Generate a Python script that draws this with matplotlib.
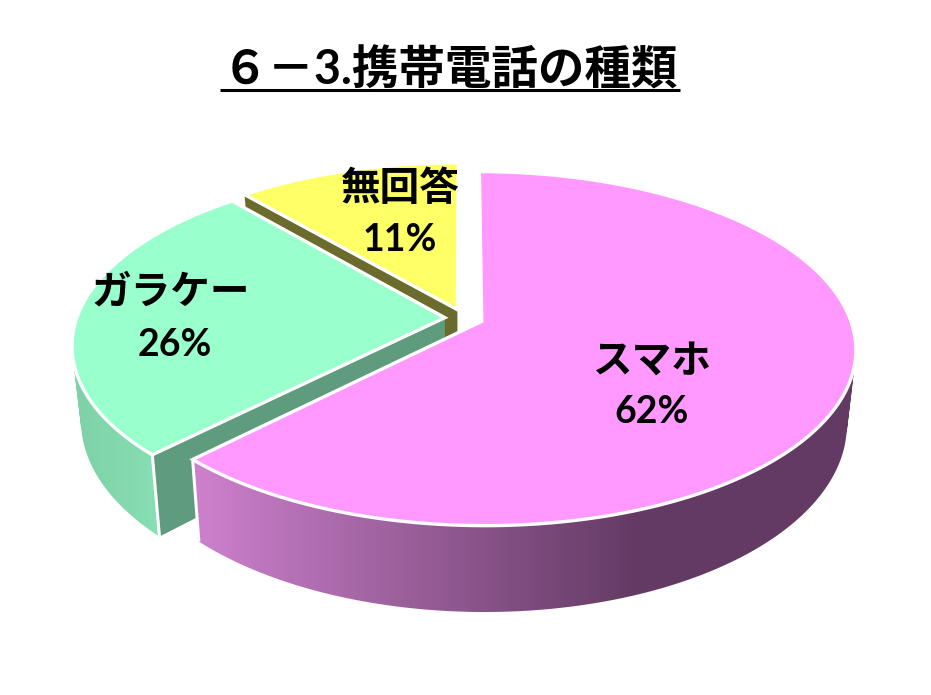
import numpy as np
import matplotlib
matplotlib.use("Agg")
import matplotlib.pyplot as plt
from matplotlib.colors import to_rgb
from matplotlib.patches import PathPatch
from matplotlib.path import Path

# データ
labels = ["スマホ", "ガラケー", "無回答"]
values = [62.4, 26.3, 11.3]
title = "６－3.携帯電話の種類"

top_colors = ["#FF99FF", "#99FFCC", "#FFFF66"]
face_colors = ["#663A66", "#5F9B7D", "#6B6B2E"]
side_left = ["#CC80CC", "#7FD2A8"]
side_right = ["#633A63", "#88DFB4"]
name_pos = [(652, 362), (171, 292), (400, 188)]
value_pos = [(652, 412), (175, 345), (400, 240)]

# 遠近法のパラメータ(ピクセル座標)
cx, cy = 464, 318
d = 6.52
B = 2400
A = 1120
H = 475
explode = 0.052
shrink = 0.023


def project(x, y, z=0.0):
    D = d + y
    return cx + B * x / D * (1 + shrink * z), cy - (A * y + H * z) / D


def band_path(tx, ty, bx, by):
    # 上下の弧を結ぶ四角形を同じ向きにそろえて一つのパスにする
    quads = []
    for j in range(len(tx) - 1):
        q = np.array([[tx[j], ty[j]], [tx[j + 1], ty[j + 1]], [bx[j + 1], by[j + 1]], [bx[j], by[j]]])
        area = np.sum(q[:, 0] * np.roll(q[:, 1], -1) - np.roll(q[:, 0], -1) * q[:, 1])
        if area < 0:
            q = q[::-1]
        quads.append(Path(np.vstack([q, q[:1]]), closed=True))
    return Path.make_compound_path(*quads)


fig = plt.figure(figsize=(9.31, 6.95), dpi=100)
ax = fig.add_axes([0, 0, 1, 1])

fr = np.array(values) / sum(values)
ends = np.cumsum(fr) * 2 * np.pi
starts = ends - fr * 2 * np.pi

# 奥から手前へ描く
for i in [2, 1, 0]:
    mid = (starts[i] + ends[i]) / 2
    ox, oy = explode * np.sin(mid), explode * np.cos(mid)
    th = np.linspace(starts[i], ends[i], 240)
    xs, ys = ox + np.sin(th), oy + np.cos(th)

    # 切断面
    if i > 0:
        ex, ey = xs[0], ys[0]
        p = [project(ox, oy), project(ex, ey), project(ex, ey, -1), project(ox, oy, -1)]
        ax.fill(*zip(*p), color=face_colors[i], lw=0, zorder=i * -10 + 1)

    tx, ty = project(xs, ys)
    bx, by = project(xs, ys, -1)

    # 外周の側面(横方向のグラデーションをパスで切り抜く)
    if i < 2:
        front = np.cos(th) < 0.9
        x0, x1 = (200, 640) if i == 0 else (80, 160)
        ramp = np.linspace(0, 1, 256)[None, :, None]
        c0, c1 = np.array(to_rgb(side_left[i])), np.array(to_rgb(side_right[i]))
        band = band_path(tx[front], ty[front], bx[front], by[front])
        side_img = ax.imshow(c0 + (c1 - c0) * ramp, extent=[x0, x1, 700, 0], aspect="auto",
                             interpolation="bilinear", zorder=i * -10 + 2)
        side_img.set_clip_path(PathPatch(band, transform=ax.transData))
        # 範囲外は端の色を伸ばす
        for ext, col in [([-50, x0, 700, 0], c0), ([x1, 1000, 700, 0], c1)]:
            pad = ax.imshow(col[None, None, :], extent=ext, aspect="auto", zorder=i * -10 + 2)
            pad.set_clip_path(PathPatch(band, transform=ax.transData))

        # 側面と切断面の間の白線
        k = 0 if i == 1 else -1
        ax.plot([tx[k], bx[k]], [ty[k], by[k]], color="white", lw=2.2, zorder=i * -10 + 3,
                solid_capstyle="butt")

    # 上面
    px, py = project(ox, oy)
    ax.fill(np.r_[px, tx], np.r_[py, ty], facecolor=top_colors[i], edgecolor="white",
            lw=2.4, joinstyle="miter", zorder=i * -10 + 4)

# ラベル
fonts = ["Lato", "Noto Sans CJK JP"]
for name, v, np_, vp in zip(labels, values, name_pos, value_pos):
    ax.text(np_[0], np_[1], name, ha="center", va="center", fontsize=28.5, fontweight="bold",
            family=fonts, color="black", zorder=5)
    ax.text(vp[0], vp[1], f"{v:.0f}%", ha="center", va="center", fontsize=27, fontweight="bold",
            family=fonts, color="black", zorder=5)

# タイトルと下線
ax.text(450, 70, title, ha="center", va="center", fontsize=33.5, fontweight="bold",
        family=fonts, color="black", zorder=5)
ax.plot([220, 680], [90, 90], color="black", lw=2.2, solid_capstyle="butt", zorder=5)

ax.set_xlim(0, 931)
ax.set_ylim(695, 0)
ax.axis("off")

fig.savefig("out.png", dpi=100, facecolor="white")
